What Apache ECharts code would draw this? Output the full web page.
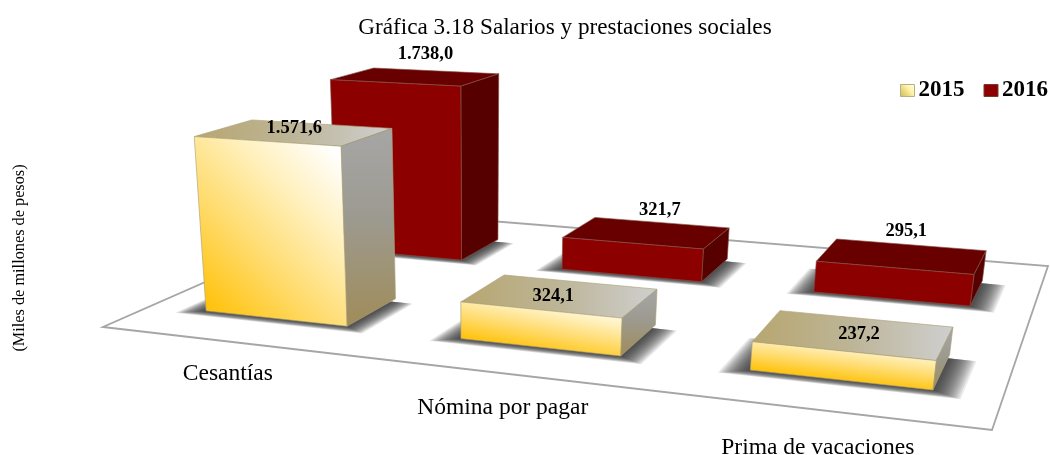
<!DOCTYPE html>
<html><head><meta charset="utf-8">
<style>html,body{margin:0;padding:0;background:#fff}#c{width:1050px;height:455px}</style>
<script src="https://cdn.jsdelivr.net/npm/echarts@6/dist/echarts.min.js"></script>
</head><body><div id="c"></div>
<script>
const categories = ['Cesantías', 'Nómina por pagar', 'Prima de vacaciones'];
const values2015 = [1571.6, 324.1, 237.2];
const values2016 = [1738.0, 321.7, 295.1];
const titleText = 'Gráfica 3.18 Salarios y prestaciones sociales';
const unitText = '(Miles de millones de pesos)';

const SERIF = '"Liberation Serif","Times New Roman",serif';
const G = { left: 100, top: 158, width: 900, height: 200 };
const VMAX = 2000;

// Camera: homography of the unit floor square plus a vertical vanishing point
function project(u, v, val) {
  const w = -0.18515 * u + 0.32066 * v + 1;
  const nx = 705.33 * u + 381.68 * v + 103;
  const ny = 23.39 * u - 48.34 * v + 327;
  const A = -2.755e-5 * val;
  return [(nx + A * 478) / (w + A), (ny + A * 4300) / (w + A)];
}
const LG = (x, y, x2, y2, stops, global) => new echarts.graphic.LinearGradient(x, y, x2, y2,
  stops.map(s => ({ offset: s[0], color: s[1] })), global);

const STYLES = {
  '2015': {
    front: (bl, fw, fh) => {
      const a = 0.45 / fw, b = 0.55 / fh, n = a * a + b * b;
      return LG(bl[0], bl[1], bl[0] + a / n, bl[1] - b / n,
        [[0, '#FFC107'], [0.35, '#FFDC70'], [0.62, '#FFEFB8'], [0.92, '#FFFFFF'], [1, '#FFFFFF']], true);
    },
    top: () => LG(0, 0, 1, 0, [[0, '#B7A66F'], [0.5, '#BDB598'], [1, '#CFCFCF']]),
    side: () => LG(0, 0, 0, 1, [[0, '#A6A6A6'], [0.45, '#9C9A90'], [1, '#A08C58']]),
    stroke: 'rgba(170,160,120,0.8)',
    uShift: 0,
    labelOffsets: [[0, -4], [-7, 1], [5, 0]]
  },
  '2016': {
    front: () => '#8C0000', top: () => '#680000', side: () => '#560000',
    stroke: 'rgba(130,80,70,0.8)',
    uShift: -0.003,
    labelOffsets: [[10, -22], [13, -22], [4, -25]]
  }
};

function barRender(key, sIdx) {
  return function (params, api) {
    const base = api.coord([api.value(0), 0]);
    const topPx = api.coord([api.value(0), api.value(1)]);
    const val = (base[1] - topPx[1]) / G.height * VMAX;
    const band = api.size([1, 0])[0] / G.width;
    const st = STYLES[key];
    const uc = (base[0] - G.left) / G.width + 0.003 + st.uShift;
    const hu = band * 0.284, vc = 0.245 + sIdx * 0.5, hv = 0.095;
    const u0 = uc - hu, u1 = uc + hu, v0 = vc - hv, v1 = vc + hv;
    const P = project;
    const poly = (pts, fill, stroke) => ({
      type: 'polygon', shape: { points: pts },
      style: { fill: fill, stroke: stroke || null, lineWidth: stroke ? 0.8 : 0 }
    });
    // soft floor shadow built from nested translucent footprints
    const shadow = [];
    for (let k = 18; k >= 1; k--) {
      const e = k / 18, du = 0.03 * e, dv = 0.03 * e;
      shadow.push({
        type: 'polygon',
        shape: { points: [P(u0 - du, v0 - dv, 0), P(u1 + du, v0 - dv, 0), P(u1 + du, v1 - 0.02, 0), P(u0 - du, v1 - 0.02, 0)] },
        style: { fill: 'rgba(40,40,40,0.09)' }
      });
    }
    const tc = P(uc, vc, val);
    const bl = P(u0, v0, 0), br = P(u1, v0, 0), tl = P(u0, v0, val);
    const off = st.labelOffsets[api.value(0)];
    return {
      type: 'group',
      children: shadow.concat([
        poly([P(u0, v1, val), P(u1, v1, val), P(u1, v0, val), P(u0, v0, val)], st.top(), st.stroke),
        poly([P(u1, v0, 0), P(u1, v1, 0), P(u1, v1, val), P(u1, v0, val)], st.side(), st.stroke),
        poly([bl, br, P(u1, v0, val), tl], st.front(bl, br[0] - bl[0], bl[1] - tl[1]), st.stroke),
        {
          type: 'text',
          style: {
            text: fmt(api.value(1)), x: tc[0] + off[0], y: tc[1] + off[1],
            align: 'center', verticalAlign: 'middle',
            fill: '#000', font: 'bold 18.5px ' + SERIF
          }
        }
      ])
    };
  };
}
function fmt(n) {
  const s = n.toFixed(1).split('.');
  return s[0].replace(/\B(?=(\d{3})+$)/g, '.') + ',' + s[1];
}
function floorRender(params, api) {
  const px = api.coord([api.value(0), 0]);
  const u = (px[0] - G.left) / G.width + 0.003;
  const p = project(u, 0, 0);
  const w = -0.18515 * u + 1;
  const kids = [{
    type: 'text',
    style: {
      text: categories[api.value(0)], x: p[0] - 2, y: p[1] + 31.5 / w,
      align: 'center', verticalAlign: 'middle', fill: '#000', font: '23.5px ' + SERIF
    }
  }];
  if (params.dataIndex === 0) {
    kids.unshift({
      type: 'polygon',
      shape: { points: [project(0, 0, 0), project(1, 0, 0), project(1, 1, 0), project(0, 1, 0)] },
      style: { fill: '#fff', stroke: '#A6A6A6', lineWidth: 1.8 }
    });
  }
  return { type: 'group', children: kids };
}
const rows = vals => categories.map((c, i) => [c, vals[i]]);

const chart = echarts.init(document.getElementById('c'), null, { renderer: 'canvas' });
chart.setOption({
  animation: false,
  backgroundColor: '#fff',
  title: {
    text: titleText, left: 560, top: 11, textAlign: 'center',
    textStyle: { fontFamily: SERIF, fontSize: 23.2, fontWeight: 'normal', color: '#000' }
  },
  legend: {
    orient: 'horizontal', left: 895, top: 74, width: 400, itemWidth: 14, itemHeight: 12, itemGap: 19,
    selectedMode: false,
    textStyle: { fontFamily: SERIF, fontSize: 23, fontWeight: 'bold', color: '#000', padding: [0, 0, 0, -1] },
    data: [
      { name: '2015', icon: 'rect', itemStyle: { color: LG(0, 1, 1, 0, [[0, '#C9B84A'], [0.6, '#FFF2A8'], [1, '#FFFFF0']]), borderColor: '#B5B08A', borderWidth: 1 } },
      { name: '2016', icon: 'rect', itemStyle: { color: '#8C0000', borderColor: '#7A3A30', borderWidth: 1 } }
    ]
  },
  grid: { left: G.left, top: G.top, width: G.width, height: G.height },
  xAxis: { type: 'category', data: categories, show: false },
  yAxis: {
    type: 'value', min: 0, max: VMAX, interval: 500,
    name: unitText, nameLocation: 'middle', nameGap: 72, nameRotate: 90,
    nameTextStyle: { fontFamily: SERIF, fontSize: 16.3, color: '#000' },
    axisLine: { show: false }, axisTick: { show: false }, axisLabel: { show: false }, splitLine: { show: false }
  },
  series: [
    { type: 'custom', name: 'floor', z: 1, silent: true, renderItem: floorRender, encode: { x: 0, y: 1 }, data: rows(categories.map(() => 0)) },
    { type: 'custom', name: '2016', z: 2, silent: true, renderItem: barRender('2016', 1), encode: { x: 0, y: 1 }, itemStyle: { color: '#8C0000' }, data: rows(values2016) },
    { type: 'custom', name: '2015', z: 3, silent: true, renderItem: barRender('2015', 0), encode: { x: 0, y: 1 }, itemStyle: { color: '#FFDF7C' }, data: rows(values2015) }
  ]
});
</script></body></html>
